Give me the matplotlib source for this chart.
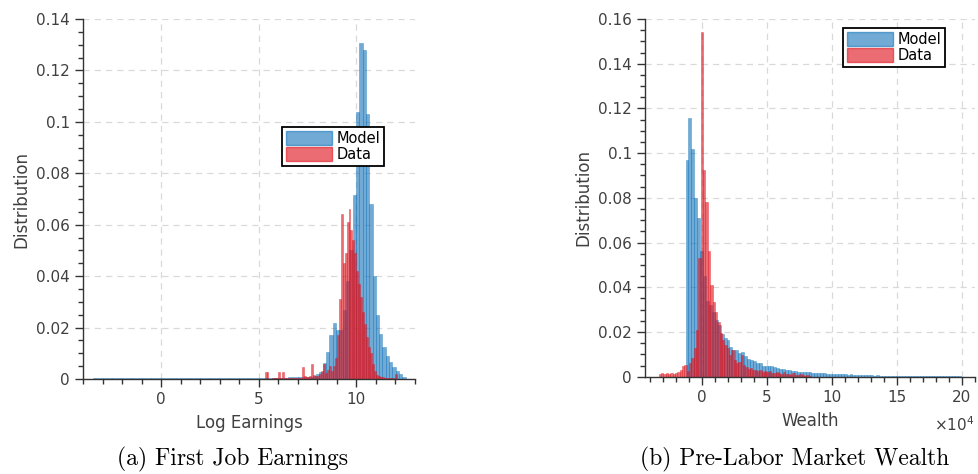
import matplotlib
matplotlib.use('Agg')
import matplotlib.pyplot as plt
import numpy as np
from matplotlib.ticker import MultipleLocator, FuncFormatter
from matplotlib.patches import Patch

# ---- (a) first job earnings, log earnings ----
# model histogram, bins of 0.17 starting at 7.60
earn_model_start = 7.60
earn_model_width = 0.17
earn_model = [0.0008, 0.0012, 0.0018, 0.0029, 0.0061, 0.0106, 0.0171, 0.0217,
              0.0190, 0.0190, 0.0270, 0.0380, 0.0500, 0.0716, 0.1040, 0.1306,
              0.1280, 0.1030, 0.0680, 0.0400, 0.0250, 0.0175, 0.0125, 0.0090,
              0.0065, 0.0045, 0.0030, 0.0018, 0.0008]
# thin low tail of the model, bins of 0.5 from -3.5
earn_tail_start = -3.5
earn_tail_width = 0.5
earn_tail = [0.0003, 0.0004, 0.0003, 0.0004, 0.0003, 0.0004, 0.0003, 0.0004,
             0.0003, 0.0003, 0.0004, 0.0003, 0.0004, 0.0003, 0.0004, 0.0003,
             0.0003, 0.0004, 0.0004, 0.0005, 0.0006, 0.0006]
# data histogram, bins of 0.1 starting at 5.3
earn_data_start = 5.3
earn_data_width = 0.1
earn_data = [0.0027, 0.0027, 0.0000, 0.0000, 0.0003, 0.0003, 0.0005, 0.0029,
             0.0005, 0.0029, 0.0003, 0.0003, 0.0002, 0.0003, 0.0003, 0.0003,
             0.0003, 0.0004, 0.0005, 0.0045, 0.0012, 0.0008, 0.0006, 0.0010,
             0.0060, 0.0015, 0.0010, 0.0012, 0.0020, 0.0030, 0.0060, 0.0025,
             0.0035, 0.0050, 0.0030, 0.0052, 0.0080, 0.0170, 0.0310, 0.0640,
             0.0450, 0.0490, 0.0610, 0.0660, 0.0580, 0.0540, 0.0490, 0.0420,
             0.0370, 0.0320, 0.0260, 0.0215, 0.0165, 0.0125, 0.0100, 0.0060,
             0.0030, 0.0015, 0.0010, 0.0008, 0.0006, 0.0005, 0.0004, 0.0003,
             0.0003, 0.0002, 0.0002, 0.0018]

# ---- (b) pre-labor market wealth, in units of 1e4 ----
wealth_model_start = -1.23
wealth_model_width = 0.225
wealth_model = [0.0969, 0.1156, 0.1018, 0.0798, 0.0708, 0.0560, 0.0450, 0.0340,
                0.0320, 0.0290, 0.0255, 0.0230, 0.0190, 0.0172, 0.0166, 0.0135,
                0.0119, 0.0120, 0.0104, 0.0110, 0.0092, 0.0078, 0.0075, 0.0068,
                0.0063, 0.0060, 0.0050, 0.0048, 0.0046, 0.0047, 0.0042, 0.0040,
                0.0034, 0.0033, 0.0030, 0.0028, 0.0027, 0.0025, 0.0023, 0.0022,
                0.0021, 0.0020, 0.0019, 0.0018, 0.0018, 0.0016, 0.0016, 0.0015,
                0.0014, 0.0013, 0.0012, 0.0011, 0.0011, 0.0010, 0.0010, 0.0009,
                0.0010, 0.0009, 0.0008, 0.0009, 0.0007, 0.0007, 0.0006, 0.0006,
                0.0005, 0.0006, 0.0005, 0.0004, 0.0004, 0.0005, 0.0004, 0.0003,
                0.0004, 0.0003, 0.0003, 0.0003, 0.0003, 0.0002, 0.0003, 0.0002,
                0.0002, 0.0002, 0.0002, 0.0002, 0.0002, 0.0001, 0.0002, 0.0001,
                0.0001, 0.0001, 0.0001, 0.0001, 0.0001, 0.0001]
wealth_data_start = -3.30
wealth_data_width = 0.18
wealth_data = [0.0012, 0.0015, 0.0010, 0.0016, 0.0013, 0.0017, 0.0012, 0.0015,
               0.0022, 0.0030, 0.0048, 0.0052, 0.0025, 0.0060, 0.0085, 0.0130,
               0.0210, 0.0530, 0.1543, 0.0924, 0.0780, 0.0560, 0.0410, 0.0335,
               0.0290, 0.0246, 0.0194, 0.0164, 0.0140, 0.0127, 0.0097, 0.0120,
               0.0075, 0.0060, 0.0065, 0.0097, 0.0052, 0.0045, 0.0033, 0.0037,
               0.0030, 0.0028, 0.0025, 0.0030, 0.0022, 0.0024, 0.0020, 0.0026,
               0.0018, 0.0016, 0.0022, 0.0015, 0.0012, 0.0019, 0.0011, 0.0013,
               0.0009, 0.0016, 0.0008, 0.0007, 0.0010, 0.0006, 0.0005, 0.0007,
               0.0004]

blue = '#0a6fb8'
red = '#e0141e'
ink = '#333333'


def hist_bars(ax, start, width, heights, color, alpha):
    left = start + width * np.arange(len(heights))
    ax.bar(left, heights, width=width, align='edge', color=color, alpha=alpha,
           edgecolor=color, linewidth=0.4)


def style(ax, xlim, ylim, ylabel, xlabel):
    ax.set_xlim(xlim)
    ax.set_ylim(ylim)
    for s in ['top', 'right']:
        ax.spines[s].set_visible(False)
    for s in ['left', 'bottom']:
        ax.spines[s].set_color(ink)
        ax.spines[s].set_linewidth(1.0)
    ax.yaxis.set_major_locator(MultipleLocator(0.02))
    ax.yaxis.set_minor_locator(MultipleLocator(0.005))
    ax.xaxis.set_major_locator(MultipleLocator(5))
    ax.xaxis.set_minor_locator(MultipleLocator(1))
    ax.yaxis.set_major_formatter(FuncFormatter(lambda v, p: '%g' % round(v, 4)))
    ax.xaxis.set_major_formatter(FuncFormatter(lambda v, p: '%g' % v))
    ax.tick_params(which='major', direction='out', length=6, width=1.0,
                   colors=ink, labelsize=11, labelcolor='#404040')
    ax.tick_params(which='minor', direction='out', length=3.5, width=1.0,
                   colors=ink)
    ax.grid(True, which='major', linestyle=(0, (5, 4)), color='#d9d9d9',
            linewidth=0.9)
    ax.set_axisbelow(True)
    ax.set_ylabel(ylabel, fontsize=12, color='#404040')
    ax.set_xlabel(xlabel, fontsize=12, color='#404040', labelpad=5)
    handles = [Patch(facecolor=blue, alpha=0.58, edgecolor=blue),
               Patch(facecolor=red, alpha=0.62, edgecolor=red)]
    return handles


def add_legend(ax, handles, anchor):
    leg = ax.legend(handles, ['Model', 'Data'], loc='upper left',
                    bbox_to_anchor=anchor, fontsize=10.5, fancybox=False,
                    edgecolor='black', framealpha=1, handlelength=3.2,
                    handleheight=1.1, borderpad=0.25, labelspacing=0.1,
                    handletextpad=0.3, borderaxespad=0)
    leg.get_frame().set_linewidth(1.3)


fig = plt.figure(figsize=(9.79, 4.74), dpi=100)

ax1 = fig.add_axes([0.0848, 0.2004, 0.339, 0.7595])
hist_bars(ax1, earn_tail_start, earn_tail_width, earn_tail, blue, 0.58)
hist_bars(ax1, earn_model_start, earn_model_width, earn_model, blue, 0.58)
hist_bars(ax1, earn_data_start, earn_data_width, earn_data, red, 0.62)
h = style(ax1, (-4, 13), (0, 0.14), 'Distribution', 'Log Earnings')
add_legend(ax1, h, (0.60, 0.70))

ax2 = fig.add_axes([0.6588, 0.2053, 0.337, 0.7546])
hist_bars(ax2, wealth_model_start, wealth_model_width, wealth_model, blue, 0.58)
hist_bars(ax2, wealth_data_start, wealth_data_width, wealth_data, red, 0.62)
h = style(ax2, (-4.35, 21.0), (0, 0.16), 'Distribution', 'Wealth')
add_legend(ax2, h, (0.60, 0.975))
ax2.text(1.0, -0.135, r'$\times10^{4}$', transform=ax2.transAxes,
         ha='right', va='center', fontsize=11, color='#404040')

fig.text(233 / 979, 1 - 459 / 474, '(a) First Job Earnings', ha='center',
         va='center', fontsize=17, family='cmr10')
fig.text(795 / 979, 1 - 459 / 474, '(b) Pre-Labor Market Wealth', ha='center',
         va='center', fontsize=17, family='cmr10')

fig.savefig('out.png', dpi=100)
